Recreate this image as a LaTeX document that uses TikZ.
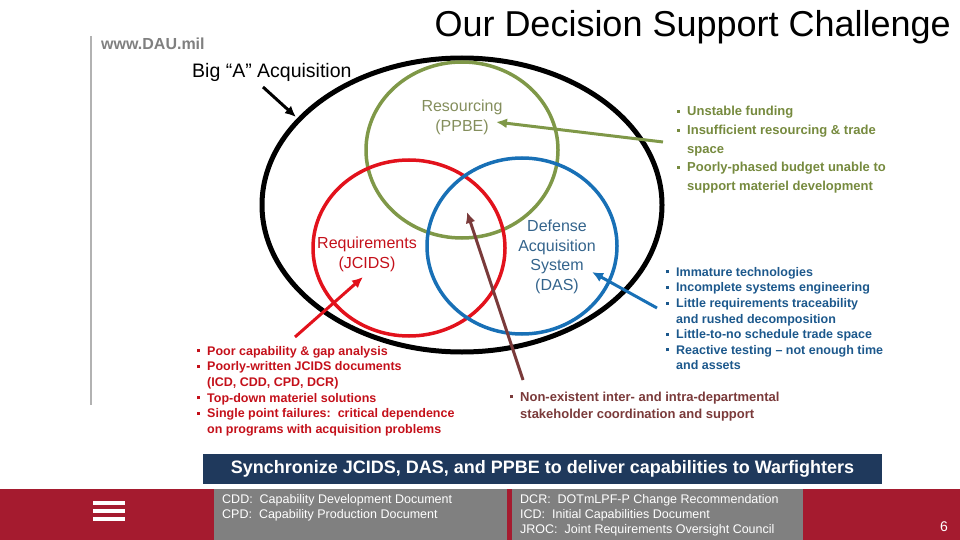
\documentclass[tikz,border=0pt]{standalone}
\usepackage{fontspec}
\setmainfont{Liberation Sans}
\usetikzlibrary{arrows.meta}
\definecolor{olivering}{RGB}{127,152,72}
\definecolor{olivetext}{RGB}{118,138,62}
\definecolor{olivename}{RGB}{132,142,92}
\definecolor{redring}{RGB}{226,18,28}
\definecolor{redtext}{RGB}{196,16,26}
\definecolor{bluering}{RGB}{24,112,182}
\definecolor{bluetext}{RGB}{28,88,140}
\definecolor{bluename}{RGB}{52,100,140}
\definecolor{brownline}{RGB}{122,58,58}
\definecolor{navy}{RGB}{31,57,92}
\definecolor{footred}{RGB}{165,27,47}
\definecolor{boxgray}{RGB}{128,128,128}
\newcommand{\sqb}{\makebox[10pt][l]{\raisebox{2.8pt}{\rule{3pt}{3pt}}}}
\newcommand{\ind}{\hspace*{10pt}}
\begin{document}
\begin{tikzpicture}[x=1pt,y=-1pt,
  ring/.style={line width=3.5pt},
  pointer/.style={line width=3pt,-{Latex[length=11pt,width=10pt]}},
  ringname/.style={align=center,inner sep=0pt,font=\fontsize{16}{19.5}\selectfont},
  bullets/.style={align=left,anchor=north west,inner sep=0pt,font=\bfseries\fontsize{12.5}{15.6}\selectfont}]
  \useasboundingbox (0,0) rectangle (960,540);
  \node[anchor=east,inner sep=0pt,font=\fontsize{36}{40}\selectfont] (title) at (951,27) {Our Decision Support Challenge};
  \draw[gray!60,line width=1.2pt] (91,36) -- (91,405);
  \node[anchor=west,inner sep=0pt,text=gray,font=\bfseries\fontsize{16}{18}\selectfont] (site) at (101,44) {www.DAU.mil};
  \node[anchor=west,inner sep=0pt,font=\fontsize{19.5}{21}\selectfont] (biga) at (192,72) {Big “A” Acquisition};

  \draw[line width=5pt] (462,205) ellipse [x radius=200,y radius=147];
  \draw[ring,olivering] (462,150) ellipse [x radius=96,y radius=88];
  \draw[ring,redring] (409,248) ellipse [x radius=96,y radius=88];
  \draw[ring,bluering] (522,246) ellipse [x radius=95,y radius=88];

  \node[ringname,text=olivename] (ppbe) at (462,117.5) {Resourcing\\(PPBE)};
  \node[ringname,text=redtext] (jcids) at (367,254.5) {Requirements\\(JCIDS)};
  \node[ringname,text=bluename] (das) at (557,257) {Defense\\Acquisition\\System\\(DAS)};

  \node[bullets,text=olivetext,font=\bfseries\fontsize{13}{18.7}\selectfont] (olivelist) at (677,106)
    {\sqb Unstable funding\\\sqb Insufficient resourcing \& trade\\\ind space\\\sqb Poorly-phased budget unable to\\\ind support materiel development};
  \node[bullets,text=bluetext] (bluelist) at (666,267)
    {\sqb Immature technologies\\\sqb Incomplete systems engineering\\\sqb Little requirements traceability\\\ind and rushed decomposition\\\sqb Little-to-no schedule trade space\\\sqb Reactive testing -- not enough time\\\ind and assets};
  \node[bullets,text=redtext] (redlist) at (197,346)
    {\sqb Poor capability \& gap analysis\\\sqb Poorly-written JCIDS documents\\\ind (ICD, CDD, CPD, DCR)\\\sqb Top-down materiel solutions\\\sqb Single point failures:\ \ critical dependence\\\ind on programs with acquisition problems};
  \node[bullets,text=brownline,font=\bfseries\fontsize{13}{17}\selectfont] (brownlist) at (510,391.5)
    {\sqb Non-existent inter- and intra-departmental\\\ind stakeholder coordination and support};

  \coordinate (bigtail) at (263,87);
  \coordinate (bighead) at (296,117);
  \coordinate (olivetail) at (663,142);
  \coordinate (olivehead) at (496,122);
  \coordinate (bluetail) at (657,308);
  \coordinate (bluehead) at (592,272);
  \coordinate (redtail) at (295,337);
  \coordinate (redhead) at (363,277);
  \coordinate (browntail) at (523,380);
  \coordinate (brownhead) at (467,212);
  \draw[pointer,black] (bigtail) -- (bighead);
  \draw[pointer,olivering] (olivetail) -- (olivehead);
  \draw[pointer,bluering] (bluetail) -- (bluehead);
  \draw[pointer,redring] (redtail) -- (redhead);
  \draw[pointer,brownline] (browntail) -- (brownhead);

  \fill[navy] (203,454) rectangle (882,484);
  \node[text=white,font=\bfseries\fontsize{18}{20}\selectfont] (goal) at (542.5,469) {Synchronize JCIDS, DAS, and PPBE to deliver capabilities to Warfighters};
  \fill[footred] (0,489) rectangle (960,540);
  \fill[boxgray] (214,489) rectangle (507,540);
  \fill[boxgray] (512,489) rectangle (803,540);
  \foreach \y in {501,509,517}
    \fill[white] (93,\y) rectangle (125,\y+4);
  \node[anchor=north west,inner sep=0pt,align=left,text=white,font=\fontsize{12.5}{15}\selectfont] (glossleft) at (222,494)
    {CDD:\ \ Capability Development Document\\CPD:\ \ Capability Production Document};
  \node[anchor=north west,inner sep=0pt,align=left,text=white,font=\fontsize{12.5}{15}\selectfont] (glossright) at (520,494)
    {DCR:\ \ DOTmLPF-P Change Recommendation\\ICD:\ \ Initial Capabilities Document\\JROC:\ \ Joint Requirements Oversight Council};
  \node[text=white,font=\fontsize{14}{16}\selectfont] (page) at (944,527) {6};
\end{tikzpicture}
\end{document}
